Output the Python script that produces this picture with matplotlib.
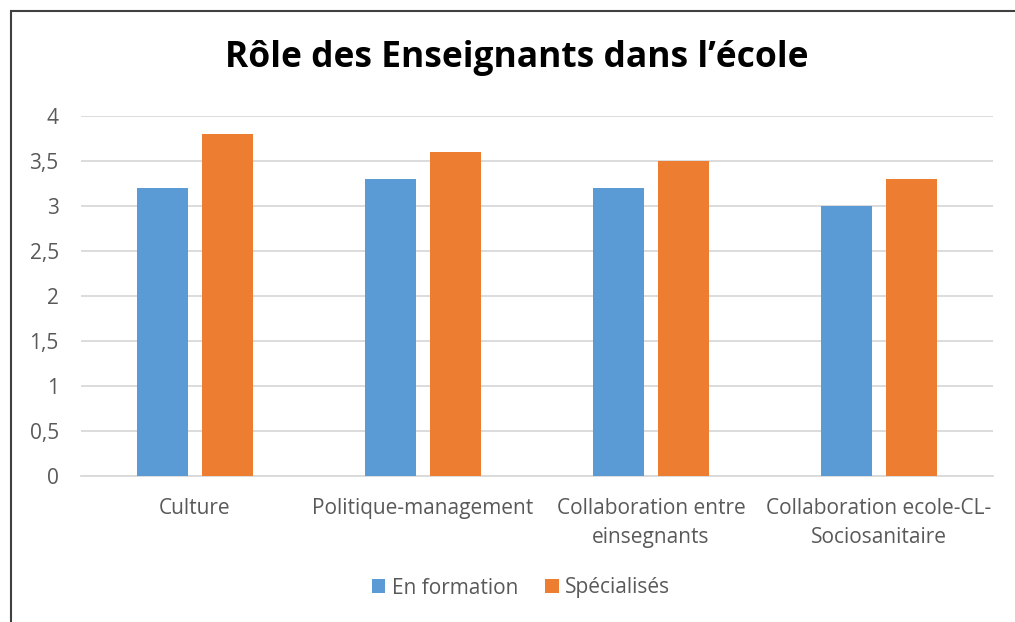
import matplotlib
matplotlib.use("Agg")
import matplotlib.pyplot as plt
import numpy as np
from matplotlib.patches import Rectangle

categories = ["Culture", "Politique-management", "Collaboration entre\neinsegnants",
              "Collaboration ecole-CL-\nSociosanitaire"]
en_formation = [3.2, 3.3, 3.2, 3.0]
specialises = [3.8, 3.6, 3.5, 3.3]
yticks = [0, 0.5, 1, 1.5, 2, 2.5, 3, 3.5, 4]
ytick_labels = ["0", "0,5", "1", "1,5", "2", "2,5", "3", "3,5", "4"]

plt.rcParams["font.family"] = ["Open Sans", "DejaVu Sans"]
text_color = "#595959"

fig = plt.figure(figsize=(10.15, 6.22), dpi=100)
ax = fig.add_axes([81 / 1015, 146 / 622, 912 / 1015, 360 / 622])

x = np.arange(len(categories))
width = 0.224
offset = 0.1425
ax.bar(x - offset, en_formation, width, color="#5B9BD5", label="En formation", zorder=3)
ax.bar(x + offset, specialises, width, color="#ED7D31", label="Spécialisés", zorder=3)

ax.set_xlim(-0.5, len(categories) - 0.5)
ax.set_ylim(0, 4)
ax.set_yticks(yticks)
ax.set_yticklabels(ytick_labels)
ax.set_xticks(x)
ax.set_xticklabels(categories, linespacing=1.5)
ax.tick_params(axis="y", length=0, pad=16, labelsize=15, labelcolor=text_color)
ax.tick_params(axis="x", length=0, pad=16, labelsize=15, labelcolor=text_color)
ax.grid(axis="y", color="#D9D9D9", linewidth=1.3, zorder=0)
for side in ["top", "right", "left"]:
    ax.spines[side].set_visible(False)
ax.spines["bottom"].set_color("#D9D9D9")
ax.spines["bottom"].set_linewidth(1.3)

fig.text(517 / 1015, 1 - 58 / 622, "Rôle des Enseignants dans l’école", ha="center", va="center",
         fontsize=25.5, fontweight="bold", color="black")

fig.legend(loc="center", bbox_to_anchor=(521 / 1015, 1 - 588 / 622), ncol=2, frameon=False,
           fontsize=15, labelcolor=text_color, handlelength=0.65, handleheight=0.65,
           handletextpad=0.3, columnspacing=1.3)

fig.patches.append(Rectangle((11 / 1015, -0.05), 1.1, 0.05 + 611 / 622, transform=fig.transFigure,
                             fill=False, edgecolor="#404040", linewidth=1.5))

fig.savefig("out.png", dpi=100)
